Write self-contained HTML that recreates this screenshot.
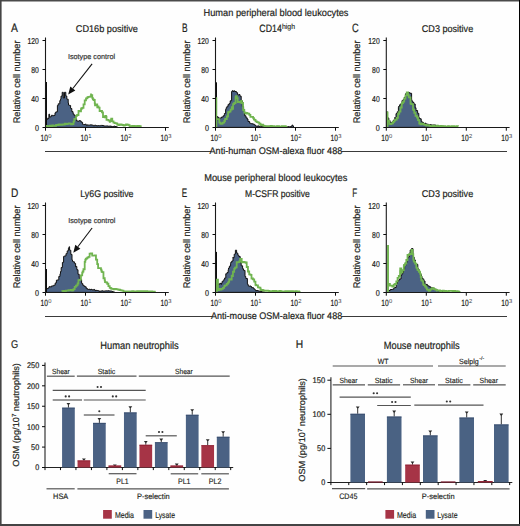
<!DOCTYPE html>
<html><head><meta charset="utf-8"><style>
html,body{margin:0;padding:0;background:#fff;width:520px;height:526px;overflow:hidden}
svg{display:block}
</style></head><body>
<svg width="520" height="526" viewBox="0 0 520 526">
<rect width="520" height="526" fill="#fefefe"/>
<g font-family='"Liberation Sans", sans-serif' fill="#231f20" stroke-width="0" text-rendering="geometricPrecision">
<text x="203.5" y="15.9" font-size="9.9" stroke="#231f20" stroke-width="0.2" textLength="145" lengthAdjust="spacingAndGlyphs" >Human peripheral blood leukocytes</text>
<text x="204.2" y="180.7" font-size="9.9" stroke="#231f20" stroke-width="0.2" textLength="143.1" lengthAdjust="spacingAndGlyphs" >Mouse peripheral blood leukocytes</text>
<polygon points="45.50,127.40 46.60,119.01 46.60,119.01 46.60,119.40 47.80,119.40 47.80,117.96 48.20,117.96 48.20,118.50 48.90,118.50 48.90,114.20 49.60,114.20 49.60,117.20 50.20,117.20 50.20,117.15 50.70,117.15 50.70,116.50 51.40,116.50 51.40,115.28 52.60,115.28 52.60,115.83 53.50,115.83 53.50,115.40 55.00,115.40 55.00,112.82 55.80,112.82 55.80,111.90 57.40,111.90 57.40,105.53 58.20,105.53 58.20,103.80 59.80,103.80 59.80,100.62 60.50,100.62 60.50,99.20 61.00,99.20 61.00,96.15 62.20,96.15 62.20,92.30 63.30,92.30 63.30,98.00 64.50,98.00 64.50,92.30 65.80,92.30 65.80,96.05 66.80,96.05 66.80,99.20 68.20,99.20 68.20,103.03 68.50,103.03 68.50,105.00 69.40,105.00 69.40,105.47 70.60,105.47 70.60,108.03 70.80,108.03 70.80,108.50 71.80,108.50 71.80,111.59 73.00,111.59 73.00,112.90 73.20,112.90 73.20,114.20 74.20,114.20 74.20,115.59 75.40,115.59 75.40,118.88 75.50,118.88 75.50,118.80 76.60,118.80 76.60,120.93 77.80,120.93 77.80,121.20 79.00,121.20 79.00,120.88 79.50,120.88 79.50,120.50 80.20,120.50 80.20,121.02 81.20,121.02 81.20,122.30 82.60,122.30 82.60,124.42 83.50,124.42 83.50,124.60 85.00,124.60 85.00,124.22 86.20,124.22 86.20,125.38 87.40,125.38 87.40,124.85 88.20,124.85 88.20,125.20 89.80,125.20 89.80,124.88 91.00,124.88 91.00,124.92 92.20,124.92 92.20,125.20 93.40,125.20 93.40,125.81 94.60,125.81 94.60,125.19 95.80,125.19 95.80,125.68 97.00,125.68 97.00,125.80 98.20,125.80 98.20,125.59 99.40,125.59 99.40,125.83 99.70,125.83 99.70,125.80 100.60,125.80 100.60,125.40 101.80,125.40 101.80,125.46 103.00,125.46 103.00,125.66 104.20,125.66 104.20,126.17 105.40,126.17 105.40,125.98 106.60,125.98 106.60,125.92 107.80,125.92 107.80,126.23 109.00,126.23 109.00,126.16 110.20,126.16 110.20,126.07 111.40,126.07 111.40,126.56 112.60,126.56 112.60,126.53 113.80,126.53 113.80,126.18 115.00,126.18 115.00,126.52 116.00,126.52 116.00,126.50 116.00,126.50 118.00,127.40" fill="#4b6284" stroke="#111" stroke-width="1.0" stroke-linejoin="miter"/>
<line x1="46.5" y1="82.0" x2="46.5" y2="127.5" stroke="#0d0d0d" stroke-width="1"/>
<polyline points="46.00,125.83 46.00,125.83 46.00,125.80 47.25,125.80 47.25,126.18 48.50,126.18 48.50,126.03 49.75,126.03 49.75,125.59 51.00,125.59 51.00,126.28 52.25,126.28 52.25,125.42 53.50,125.42 53.50,125.72 53.50,125.72 53.50,125.80 54.75,125.80 54.75,125.86 56.00,125.86 56.00,124.98 57.25,124.98 57.25,125.14 58.50,125.14 58.50,124.38 59.75,124.38 59.75,124.94 60.50,124.94 60.50,124.60 61.00,124.60 61.00,124.88 62.25,124.88 62.25,124.46 63.50,124.46 63.50,124.71 64.75,124.71 64.75,123.75 66.00,123.75 66.00,124.13 67.25,124.13 67.25,123.82 68.50,123.82 68.50,123.62 68.50,123.62 68.50,123.50 69.75,123.50 69.75,123.61 71.00,123.61 71.00,124.36 72.00,124.36 72.00,124.00 73.50,124.00 73.50,121.61 74.30,121.61 74.30,118.80 76.00,118.80 76.00,116.20 76.60,116.20 76.60,115.40 77.25,115.40 77.25,115.02 78.50,115.02 78.50,110.97 79.75,110.97 79.75,111.40 81.00,111.40 81.00,109.33 81.20,109.33 81.20,108.50 82.25,108.50 82.25,107.85 83.50,107.85 83.50,104.34 84.70,104.34 84.70,100.40 86.00,100.40 86.00,98.32 87.25,98.32 87.25,97.44 88.20,97.44 88.20,96.90 89.75,96.90 89.75,96.57 91.00,96.57 91.00,93.48 91.00,93.48 91.00,95.20 92.25,95.20 92.25,97.84 92.80,97.84 92.80,99.20 93.50,99.20 93.50,99.98 94.75,99.98 94.75,103.32 95.00,103.32 95.00,105.40 96.00,105.40 96.00,104.29 97.25,104.29 97.25,107.44 97.30,107.44 97.30,106.50 98.50,106.50 98.50,107.62 99.60,107.62 99.60,111.20 101.00,111.20 101.00,110.93 102.00,110.93 102.00,112.30 103.00,112.30 103.00,117.00 103.50,117.00 103.50,116.40 104.75,116.40 104.75,117.36 105.40,117.36 105.40,115.80 106.00,115.80 106.00,116.77 106.50,116.77 106.50,119.80 107.25,119.80 107.25,119.94 108.50,119.94 108.50,120.60 109.75,120.60 109.75,121.75 110.00,121.75 110.00,121.00 111.00,121.00 111.00,119.92 111.20,119.92 111.20,118.70 112.25,118.70 112.25,121.35 113.50,121.35 113.50,122.31 113.50,122.31 113.50,122.70 114.75,122.70 114.75,123.03 116.00,123.03 116.00,123.43 117.25,123.43 117.25,124.66 118.00,124.66 118.00,124.40 118.50,124.40 118.50,125.11 119.75,125.11 119.75,124.32 121.00,124.32 121.00,124.63 122.25,124.63 122.25,124.98 123.50,124.98 123.50,125.25 123.80,125.25 123.80,125.60 124.75,125.60 124.75,125.06 126.00,125.06 126.00,124.52 126.00,124.52 126.00,124.40 127.25,124.40 127.25,124.74 128.50,124.74 128.50,125.13 129.60,125.13 129.60,126.20 131.00,126.20 131.00,126.03 132.25,126.03 132.25,125.89 133.50,125.89 133.50,126.00 134.00,126.00 134.00,125.90 134.75,125.90 134.75,126.35 136.00,126.35 136.00,126.09 137.25,126.09 137.25,125.92 138.50,125.92 138.50,126.02 138.80,126.02 138.80,125.90 139.75,125.90 139.75,126.40 141.00,126.40 141.00,126.70 141.00,126.70" fill="none" stroke="#70b450" stroke-width="1.8" stroke-linejoin="miter"/>
<polygon points="215.80,127.40 217.20,116.02 217.20,116.02 217.20,117.00 218.40,117.00 218.40,118.48 219.20,118.48 219.20,118.00 220.80,118.00 220.80,117.92 221.50,117.92 221.50,117.00 223.20,117.00 223.20,115.77 224.40,115.77 224.40,114.16 224.40,114.16 224.40,113.50 225.60,113.50 225.60,109.40 226.20,109.40 226.20,107.70 226.80,107.70 226.80,106.72 228.00,106.72 228.00,104.56 228.50,104.56 228.50,104.80 229.20,104.80 229.20,103.45 230.20,103.45 230.20,100.80 231.60,100.80 231.60,91.77 231.90,91.77 231.90,91.00 232.80,91.00 232.80,90.46 233.00,90.46 233.00,91.50 234.00,91.50 234.00,90.86 234.80,90.86 234.80,91.50 236.40,91.50 236.40,92.69 237.60,92.69 237.60,94.53 237.70,94.53 237.70,95.00 238.80,95.00 238.80,94.59 240.00,94.59 240.00,95.10 240.00,95.10 240.00,96.20 241.20,96.20 241.20,100.81 242.30,100.81 242.30,106.50 243.60,106.50 243.60,110.88 244.60,110.88 244.60,115.80 246.00,115.80 246.00,117.85 247.20,117.85 247.20,119.11 248.00,119.11 248.00,121.50 249.60,121.50 249.60,123.22 250.80,123.22 250.80,123.52 251.50,123.52 251.50,123.80 253.20,123.80 253.20,124.26 254.40,124.26 254.40,125.07 255.60,125.07 255.60,125.84 256.00,125.84 256.00,126.20 256.80,126.20 256.80,126.11 258.00,126.11 258.00,125.93 259.20,125.93 259.20,126.62 260.40,126.62 260.40,126.79 261.60,126.79 261.60,126.37 262.80,126.37 262.80,126.43 264.00,126.43 264.00,126.14 265.20,126.14 265.20,126.20 266.40,126.20 266.40,126.44 267.60,126.44 267.60,126.42 268.80,126.42 268.80,126.92 270.00,126.92 270.00,126.43 270.00,126.43 270.00,126.70 271.20,126.70 271.20,126.32 272.40,126.32 272.40,127.06 273.60,127.06 273.60,126.72 274.80,126.72 274.80,126.42 276.00,126.42 276.00,126.73 277.20,126.73 277.20,126.33 278.40,126.33 278.40,126.72 279.60,126.72 279.60,127.08 280.80,127.08 280.80,126.99 282.00,126.99 282.00,126.86 283.20,126.86 283.20,126.51 284.40,126.51 284.40,126.59 285.60,126.59 285.60,126.44 286.80,126.44 286.80,126.92 288.00,126.92 288.00,126.73 289.20,126.73 289.20,126.92 290.40,126.92 290.40,126.57 291.00,126.57 291.00,126.70 291.60,126.70 291.60,125.67 292.50,125.67 292.50,124.80 292.50,124.80 294.00,127.30" fill="#4b6284" stroke="#111" stroke-width="1.0" stroke-linejoin="miter"/>
<line x1="216.5" y1="82.3" x2="216.5" y2="127.5" stroke="#0d0d0d" stroke-width="1"/>
<polyline points="216.80,120.01 216.80,120.01 216.80,119.20 218.00,119.20 218.00,119.20 219.30,119.20 219.30,122.66 220.40,122.66 220.40,123.80 221.80,123.80 221.80,123.71 222.70,123.71 222.70,122.70 224.30,122.70 224.30,120.98 225.00,120.98 225.00,119.20 225.55,119.20 225.55,119.02 226.80,119.02 226.80,116.48 228.05,116.48 228.05,112.20 228.50,112.20 228.50,112.30 229.30,112.30 229.30,111.54 230.55,111.54 230.55,109.67 231.80,109.67 231.80,107.21 231.90,107.21 231.90,108.80 233.05,108.80 233.05,104.20 234.20,104.20 234.20,103.00 235.55,103.00 235.55,97.11 236.00,97.11 236.00,96.20 236.80,96.20 236.80,98.06 237.70,98.06 237.70,102.00 239.30,102.00 239.30,102.14 240.55,102.14 240.55,102.67 241.20,102.67 241.20,100.80 241.80,100.80 241.80,103.01 243.05,103.01 243.05,109.77 243.50,109.77 243.50,110.00 244.30,110.00 244.30,112.56 245.55,112.56 245.55,113.69 246.80,113.69 246.80,112.81 247.00,112.81 247.00,113.50 248.05,113.50 248.05,113.54 249.30,113.54 249.30,114.87 250.40,114.87 250.40,116.90 251.80,116.90 251.80,116.96 253.05,116.96 253.05,117.89 253.80,117.89 253.80,119.20 254.30,119.20 254.30,119.88 255.55,119.88 255.55,121.42 256.80,121.42 256.80,122.13 258.05,122.13 258.05,122.33 258.50,122.33 258.50,122.70 259.30,122.70 259.30,123.74 260.55,123.74 260.55,125.13 260.80,125.13 260.80,125.00 261.80,125.00 261.80,124.69 263.05,124.69 263.05,125.57 264.30,125.57 264.30,126.04 265.55,126.04 265.55,126.11 266.80,126.11 266.80,126.28 267.70,126.28 267.70,126.20 269.30,126.20 269.30,126.20 270.55,126.20 270.55,125.95 271.80,125.95 271.80,126.52 273.05,126.52 273.05,126.13 274.30,126.13 274.30,126.57 275.55,126.57 275.55,126.74 276.80,126.74 276.80,126.25 278.05,126.25 278.05,126.27 279.30,126.27 279.30,126.77 280.55,126.77 280.55,126.59 281.80,126.59 281.80,126.14 283.05,126.14 283.05,126.12 284.30,126.12 284.30,126.16 285.55,126.16 285.55,126.82 286.80,126.82 286.80,126.75 287.00,126.75 287.00,126.50 287.00,126.50" fill="none" stroke="#70b450" stroke-width="1.8" stroke-linejoin="miter"/>
<line x1="216.3" y1="97.3" x2="216.3" y2="127.5" stroke="#70b450" stroke-width="1.9"/>
<polygon points="386.80,127.40 387.60,117.22 387.60,117.22 387.60,118.00 388.80,118.00 388.80,120.52 389.20,120.52 389.20,120.40 390.00,120.40 390.00,122.21 391.20,122.21 391.20,122.69 391.50,122.69 391.50,122.70 392.40,122.70 392.40,121.19 393.60,121.19 393.60,119.99 394.80,119.99 394.80,117.46 395.00,117.46 395.00,118.00 396.00,118.00 396.00,113.65 397.20,113.65 397.20,111.81 398.40,111.81 398.40,107.16 398.50,107.16 398.50,106.50 399.60,106.50 399.60,104.77 400.80,104.77 400.80,103.71 402.00,103.71 402.00,100.65 402.00,100.65 402.00,100.80 403.20,100.80 403.20,99.46 404.40,99.46 404.40,97.20 405.60,97.20 405.60,93.68 406.50,93.68 406.50,92.70 408.00,92.70 408.00,92.41 409.20,92.41 409.20,92.71 410.00,92.71 410.00,93.30 411.60,93.30 411.60,99.57 411.80,99.57 411.80,101.00 412.80,101.00 412.80,102.55 414.00,102.55 414.00,103.47 414.00,103.47 414.00,104.00 415.20,104.00 415.20,107.72 416.00,107.72 416.00,110.50 417.60,110.50 417.60,113.32 418.80,113.32 418.80,117.77 419.30,117.77 419.30,118.00 420.00,118.00 420.00,118.80 421.20,118.80 421.20,120.95 421.80,120.95 421.80,122.00 422.40,122.00 422.40,122.43 423.60,122.43 423.60,123.52 424.80,123.52 424.80,123.24 426.00,123.24 426.00,124.52 426.20,124.52 426.20,124.00 427.20,124.00 427.20,124.22 428.40,124.22 428.40,124.52 429.60,124.52 429.60,124.77 430.80,124.77 430.80,124.42 430.80,124.42 430.80,125.00 432.00,125.00 432.00,125.09 433.20,125.09 433.20,124.96 434.40,124.96 434.40,124.93 435.60,124.93 435.60,125.94 436.80,125.94 436.80,125.45 438.00,125.45 438.00,125.91 439.20,125.91 439.20,126.31 440.00,126.31 440.00,126.20 441.60,126.20 441.60,126.35 442.80,126.35 442.80,126.22 444.00,126.22 444.00,126.46 445.20,126.46 445.20,126.56 446.40,126.56 446.40,126.82 447.60,126.82 447.60,126.34 448.80,126.34 448.80,126.78 450.00,126.78 450.00,126.61 450.00,126.61 450.00,126.80 450.00,126.80 455.00,127.30" fill="#4b6284" stroke="#111" stroke-width="1.0" stroke-linejoin="miter"/>
<line x1="387.0" y1="111.2" x2="387.0" y2="127.5" stroke="#0d0d0d" stroke-width="1"/>
<polyline points="388.00,120.52 388.00,120.52 388.00,121.00 389.20,121.00 389.20,123.80 390.50,123.80 390.50,123.99 391.50,123.99 391.50,123.40 393.00,123.40 393.00,121.87 394.25,121.87 394.25,120.71 395.00,120.71 395.00,119.80 395.50,119.80 395.50,119.59 396.75,119.59 396.75,117.97 398.00,117.97 398.00,114.20 398.50,114.20 398.50,113.50 399.25,113.50 399.25,111.66 400.50,111.66 400.50,107.52 401.75,107.52 401.75,103.79 402.00,103.79 402.00,103.00 403.00,103.00 403.00,101.65 404.20,101.65 404.20,98.50 405.50,98.50 405.50,95.33 406.75,95.33 406.75,92.74 406.80,92.74 406.80,92.50 408.00,92.50 408.00,95.30 408.80,95.30 408.80,97.30 410.50,97.30 410.50,103.58 411.30,103.58 411.30,104.20 413.00,104.20 413.00,109.40 413.50,109.40 413.50,110.00 414.25,110.00 414.25,112.96 415.50,112.96 415.50,115.88 416.75,115.88 416.75,116.21 417.00,116.21 417.00,117.50 418.00,117.50 418.00,120.04 419.25,120.04 419.25,123.66 419.50,123.66 419.50,123.50 420.50,123.50 420.50,124.32 421.75,124.32 421.75,123.70 423.00,123.70 423.00,124.11 424.25,124.11 424.25,124.92 425.50,124.92 425.50,124.91 426.20,124.91 426.20,125.60 426.75,125.60 426.75,125.35 428.00,125.35 428.00,125.24 429.25,125.24 429.25,125.91 430.50,125.91 430.50,126.07 431.75,126.07 431.75,126.24 433.00,126.24 433.00,125.56 434.25,125.56 434.25,126.16 435.50,126.16 435.50,126.16 436.75,126.16 436.75,125.72 438.00,125.72 438.00,126.47 439.25,126.47 439.25,126.60 440.00,126.60 440.00,126.20 440.50,126.20 440.50,125.95 441.75,125.95 441.75,126.64 443.00,126.64 443.00,126.16 444.25,126.16 444.25,126.26 445.50,126.26 445.50,126.73 446.75,126.73 446.75,126.61 448.00,126.61 448.00,126.04 449.25,126.04 449.25,126.29 450.50,126.29 450.50,126.39 451.75,126.39 451.75,126.26 453.00,126.26 453.00,126.16 454.25,126.16 454.25,126.28 455.50,126.28 455.50,126.65 456.75,126.65 456.75,126.07 458.00,126.07 458.00,126.50 458.00,126.50" fill="none" stroke="#70b450" stroke-width="1.8" stroke-linejoin="miter"/>
<line x1="387.5" y1="111.5" x2="387.5" y2="127.5" stroke="#70b450" stroke-width="1.9"/>
<polygon points="45.50,292.40 46.80,288.68 46.80,288.68 46.80,288.60 48.00,288.60 48.00,287.92 49.20,287.92 49.20,286.56 50.30,286.56 50.30,286.90 51.60,286.90 51.60,285.90 52.80,285.90 52.80,285.92 53.70,285.92 53.70,285.20 55.20,285.20 55.20,282.98 56.40,282.98 56.40,280.19 57.10,280.19 57.10,280.10 57.60,280.10 57.60,279.90 58.80,279.90 58.80,276.43 60.00,276.43 60.00,273.80 60.50,273.80 60.50,271.50 61.20,271.50 61.20,267.48 62.40,267.48 62.40,262.43 63.60,262.43 63.60,256.54 63.90,256.54 63.90,256.20 64.80,256.20 64.80,255.91 66.00,255.91 66.00,253.59 66.50,253.59 66.50,253.60 67.20,253.60 67.20,250.88 68.40,250.88 68.40,248.26 69.00,248.26 69.00,246.80 69.60,246.80 69.60,250.24 70.80,250.24 70.80,254.40 72.00,254.40 72.00,259.97 72.50,259.97 72.50,261.30 73.20,261.30 73.20,261.82 74.40,261.82 74.40,263.38 75.60,263.38 75.60,266.87 75.90,266.87 75.90,266.40 76.80,266.40 76.80,269.73 78.00,269.73 78.00,274.25 79.20,274.25 79.20,277.14 79.30,277.14 79.30,278.40 80.40,278.40 80.40,279.63 81.60,279.63 81.60,283.41 82.70,283.41 82.70,285.20 84.00,285.20 84.00,286.31 85.20,286.31 85.20,286.87 86.20,286.87 86.20,288.60 87.60,288.60 87.60,289.49 88.80,289.49 88.80,289.25 90.00,289.25 90.00,289.69 91.20,289.69 91.20,288.93 91.30,288.93 91.30,289.50 92.40,289.50 92.40,290.17 93.60,290.17 93.60,289.44 94.80,289.44 94.80,290.62 96.00,290.62 96.00,290.39 97.20,290.39 97.20,290.51 98.40,290.51 98.40,290.97 99.60,290.97 99.60,291.55 99.80,291.55 99.80,291.20 100.80,291.20 100.80,290.99 102.00,290.99 102.00,290.86 103.20,290.86 103.20,291.22 104.40,291.22 104.40,290.96 105.60,290.96 105.60,290.84 106.80,290.84 106.80,290.89 108.00,290.89 108.00,290.79 109.20,290.79 109.20,290.93 110.40,290.93 110.40,291.03 111.60,291.03 111.60,291.02 111.80,291.02 111.80,291.20 111.80,291.20 115.00,292.40" fill="#4b6284" stroke="#111" stroke-width="1.0" stroke-linejoin="miter"/>
<line x1="46.5" y1="269.0" x2="46.5" y2="292.5" stroke="#0d0d0d" stroke-width="1"/>
<polyline points="62.20,291.44 62.20,291.44 62.20,291.20 63.45,291.20 63.45,290.89 64.70,290.89 64.70,290.98 65.95,290.98 65.95,290.55 67.20,290.55 67.20,290.61 68.45,290.61 68.45,290.15 69.70,290.15 69.70,290.28 70.95,290.28 70.95,289.90 72.20,289.90 72.20,290.59 72.50,290.59 72.50,290.30 73.45,290.30 73.45,289.11 74.70,289.11 74.70,286.80 75.95,286.80 75.95,285.64 77.20,285.64 77.20,285.18 77.60,285.18 77.60,283.50 78.45,283.50 78.45,280.22 79.70,280.22 79.70,279.71 80.95,279.71 80.95,275.37 82.20,275.37 82.20,272.66 82.70,272.66 82.70,271.50 83.45,271.50 83.45,269.27 84.70,269.27 84.70,261.96 85.30,261.96 85.30,259.60 85.95,259.60 85.95,258.72 87.20,258.72 87.20,257.62 88.45,257.62 88.45,256.94 89.60,256.94 89.60,253.60 90.95,253.60 90.95,253.48 92.20,253.48 92.20,255.66 93.45,255.66 93.45,255.63 94.70,255.63 94.70,255.79 94.70,255.79 94.70,255.30 95.95,255.30 95.95,259.66 97.20,259.66 97.20,264.16 98.10,264.16 98.10,268.10 99.70,268.10 99.70,268.10 100.95,268.10 100.95,269.62 101.50,269.62 101.50,271.50 102.20,271.50 102.20,272.07 103.45,272.07 103.45,278.27 104.70,278.27 104.70,280.38 105.00,280.38 105.00,282.10 105.95,282.10 105.95,282.30 107.20,282.30 107.20,283.73 108.40,283.73 108.40,286.20 109.70,286.20 109.70,287.78 110.95,287.78 110.95,288.66 112.00,288.66 112.00,288.80 113.45,288.80 113.45,289.30 114.70,289.30 114.70,288.97 115.95,288.97 115.95,289.15 117.20,289.15 117.20,289.45 118.45,289.45 118.45,289.88 119.70,289.88 119.70,289.75 120.00,289.75 120.00,290.20 120.95,290.20 120.95,290.39 122.20,290.39 122.20,290.53 123.45,290.53 123.45,291.53 124.70,291.53 124.70,291.83 125.00,291.83 125.00,291.50 125.95,291.50 125.95,291.54 127.20,291.54 127.20,291.29 128.45,291.29 128.45,291.89 129.70,291.89 129.70,291.34 130.95,291.34 130.95,291.38 132.20,291.38 132.20,291.08 133.45,291.08 133.45,291.40 134.70,291.40 134.70,291.48 135.95,291.48 135.95,291.50 137.20,291.50 137.20,291.25 138.45,291.25 138.45,291.50 139.70,291.50 139.70,291.08 140.95,291.08 140.95,291.30 142.20,291.30 142.20,291.16 143.45,291.16 143.45,291.42 144.70,291.42 144.70,291.12 145.95,291.12 145.95,291.10 147.20,291.10 147.20,291.34 148.45,291.34 148.45,291.28 149.70,291.28 149.70,291.57 150.95,291.57 150.95,291.52 152.20,291.52 152.20,291.71 153.45,291.71 153.45,291.63 154.70,291.63 154.70,291.68 155.00,291.68 155.00,291.50 155.00,291.50" fill="none" stroke="#70b450" stroke-width="1.8" stroke-linejoin="miter"/>
<polygon points="216.00,292.40 217.40,285.03 217.40,285.03 217.40,284.20 218.60,284.20 218.60,283.96 218.70,283.96 218.70,284.20 219.80,284.20 219.80,283.39 221.00,283.39 221.00,284.36 221.50,284.36 221.50,283.10 222.20,283.10 222.20,281.26 223.40,281.26 223.40,280.70 223.80,280.70 223.80,279.60 224.60,279.60 224.60,277.98 225.80,277.98 225.80,273.76 226.20,273.76 226.20,273.80 227.00,273.80 227.00,272.56 228.20,272.56 228.20,269.71 228.50,269.71 228.50,268.10 229.40,268.10 229.40,266.11 230.60,266.11 230.60,263.32 230.80,263.32 230.80,262.30 231.80,262.30 231.80,260.99 233.00,260.99 233.00,257.11 233.10,257.11 233.10,257.70 234.20,257.70 234.20,254.17 235.40,254.17 235.40,250.21 235.40,250.21 235.40,250.20 236.60,250.20 236.60,252.98 237.10,252.98 237.10,253.10 237.80,253.10 237.80,255.17 238.80,255.17 238.80,256.50 240.20,256.50 240.20,262.64 241.20,262.64 241.20,265.80 242.60,265.80 242.60,268.78 243.50,268.78 243.50,270.40 245.00,270.40 245.00,276.55 245.80,276.55 245.80,278.50 247.40,278.50 247.40,283.92 248.00,283.92 248.00,285.40 248.60,285.40 248.60,286.22 249.80,286.22 249.80,286.04 251.00,286.04 251.00,286.51 251.50,286.51 251.50,287.70 252.20,287.70 252.20,287.56 253.40,287.56 253.40,288.75 254.60,288.75 254.60,289.24 255.00,289.24 255.00,290.00 255.80,290.00 255.80,290.59 257.00,290.59 257.00,290.58 258.20,290.58 258.20,290.96 259.40,290.96 259.40,291.26 259.60,291.26 259.60,291.20 259.60,291.20 265.00,292.30" fill="#4b6284" stroke="#111" stroke-width="1.0" stroke-linejoin="miter"/>
<line x1="216.5" y1="251.9" x2="216.5" y2="292.5" stroke="#0d0d0d" stroke-width="1"/>
<polyline points="216.70,280.25 216.70,280.25 216.70,279.60 217.95,279.60 217.95,289.59 218.00,289.59 218.00,290.00 219.20,290.00 219.20,288.94 220.45,288.94 220.45,289.58 221.50,289.58 221.50,288.80 222.95,288.80 222.95,287.84 224.20,287.84 224.20,286.18 225.00,286.18 225.00,285.40 226.70,285.40 226.70,283.80 227.95,283.80 227.95,282.93 228.50,282.93 228.50,281.90 229.20,281.90 229.20,279.24 230.45,279.24 230.45,279.48 231.70,279.48 231.70,275.64 231.90,275.64 231.90,276.20 232.95,276.20 232.95,271.74 234.20,271.74 234.20,268.93 234.80,268.93 234.80,268.10 235.45,268.10 235.45,267.29 236.70,267.29 236.70,262.25 237.10,262.25 237.10,262.30 237.95,262.30 237.95,262.14 239.20,262.14 239.20,261.48 240.00,261.48 240.00,258.80 241.70,258.80 241.70,262.28 241.70,262.28 241.70,262.30 242.95,262.30 242.95,261.88 244.20,261.88 244.20,262.22 245.45,262.22 245.45,262.96 245.80,262.96 245.80,262.30 246.70,262.30 246.70,267.02 247.95,267.02 247.95,271.71 248.00,271.71 248.00,271.50 249.20,271.50 249.20,274.41 250.45,274.41 250.45,274.88 251.50,274.88 251.50,278.50 252.95,278.50 252.95,279.41 254.20,279.41 254.20,281.72 255.45,281.72 255.45,284.92 256.20,284.92 256.20,285.40 256.70,285.40 256.70,285.47 257.95,285.47 257.95,287.28 259.20,287.28 259.20,287.63 260.45,287.63 260.45,289.09 260.80,289.09 260.80,290.00 261.70,290.00 261.70,289.85 262.95,289.85 262.95,290.48 264.20,290.48 264.20,290.65 265.45,290.65 265.45,290.79 266.70,290.79 266.70,290.56 267.95,290.56 267.95,290.95 269.20,290.95 269.20,291.06 270.00,291.06 270.00,291.20 271.70,291.20 271.70,291.19 272.95,291.19 272.95,290.88 274.20,290.88 274.20,291.60 275.45,291.60 275.45,290.98 276.70,290.98 276.70,291.70 277.95,291.70 277.95,291.67 279.20,291.67 279.20,290.86 280.45,290.86 280.45,291.27 281.70,291.27 281.70,291.60 282.95,291.60 282.95,291.74 284.20,291.74 284.20,291.30 285.45,291.30 285.45,291.15 286.70,291.15 286.70,291.11 287.95,291.11 287.95,291.77 289.20,291.77 289.20,291.14 290.45,291.14 290.45,291.47 291.70,291.47 291.70,291.11 292.95,291.11 292.95,291.45 294.20,291.45 294.20,291.83 295.45,291.83 295.45,291.14 296.70,291.14 296.70,291.74 297.95,291.74 297.95,291.49 299.20,291.49 299.20,291.82 300.00,291.82 300.00,291.50 300.00,291.50" fill="none" stroke="#70b450" stroke-width="1.8" stroke-linejoin="miter"/>
<line x1="216.8" y1="279.6" x2="216.8" y2="292.5" stroke="#70b450" stroke-width="1.9"/>
<polygon points="387.00,292.50 389.00,290.72 389.00,290.72 389.00,290.50 390.20,290.50 390.20,289.57 391.00,289.57 391.00,289.50 392.60,289.50 392.60,289.20 393.80,289.20 393.80,287.88 394.50,287.88 394.50,287.50 396.20,287.50 396.20,283.44 397.40,283.44 397.40,281.27 398.60,281.27 398.60,280.22 399.30,280.22 399.30,279.00 401.00,279.00 401.00,275.11 402.00,275.11 402.00,273.00 403.40,273.00 403.40,269.06 404.60,269.06 404.60,265.71 405.00,265.71 405.00,265.50 405.80,265.50 405.80,262.73 407.00,262.73 407.00,259.02 407.80,259.02 407.80,257.00 409.40,257.00 409.40,253.08 410.20,253.08 410.20,250.00 411.50,250.00 411.50,248.60 413.00,248.60 413.00,254.67 413.30,254.67 413.30,257.20 414.20,257.20 414.20,259.98 415.40,259.98 415.40,263.15 415.80,263.15 415.80,263.40 416.60,263.40 416.60,264.42 417.80,264.42 417.80,268.99 419.00,268.99 419.00,271.31 419.50,271.31 419.50,272.00 420.20,272.00 420.20,274.62 421.40,274.62 421.40,276.25 422.00,276.25 422.00,278.20 422.60,278.20 422.60,278.92 423.80,278.92 423.80,280.98 425.00,280.98 425.00,284.32 425.70,284.32 425.70,284.40 427.40,284.40 427.40,285.74 428.60,285.74 428.60,286.07 429.40,286.07 429.40,286.90 431.00,286.90 431.00,287.56 432.20,287.56 432.20,287.91 433.40,287.91 433.40,288.19 434.30,288.19 434.30,289.30 435.80,289.30 435.80,289.38 437.00,289.38 437.00,290.70 438.20,290.70 438.20,290.56 439.30,290.56 439.30,291.20 439.30,291.20 450.00,292.50" fill="#4b6284" stroke="#111" stroke-width="1.0" stroke-linejoin="miter"/>
<polyline points="388.80,285.15 388.80,285.15 388.80,284.00 389.90,284.00 389.90,285.60 391.30,285.60 391.30,285.59 392.30,285.59 392.30,286.50 393.80,286.50 393.80,284.56 395.00,284.56 395.00,284.00 396.30,284.00 396.30,281.44 397.55,281.44 397.55,277.78 398.80,277.78 398.80,275.94 399.00,275.94 399.00,276.00 400.05,276.00 400.05,271.08 400.20,271.08 400.20,268.50 401.30,268.50 401.30,272.84 401.50,272.84 401.50,272.00 402.55,272.00 402.55,270.18 403.80,270.18 403.80,266.03 404.00,266.03 404.00,265.00 405.05,265.00 405.05,263.49 406.30,263.49 406.30,260.02 407.50,260.02 407.50,255.00 408.80,255.00 408.80,254.56 409.60,254.56 409.60,254.00 411.30,254.00 411.30,251.21 411.50,251.21 411.50,250.00 412.55,250.00 412.55,254.04 413.30,254.04 413.30,259.70 413.80,259.70 413.80,261.70 415.05,261.70 415.05,263.59 416.30,263.59 416.30,267.58 417.00,267.58 417.00,268.30 417.55,268.30 417.55,270.11 418.80,270.11 418.80,271.76 420.05,271.76 420.05,273.85 420.70,273.85 420.70,277.00 421.30,277.00 421.30,280.31 422.55,280.31 422.55,281.36 423.20,281.36 423.20,284.40 423.80,284.40 423.80,285.13 425.05,285.13 425.05,286.54 426.30,286.54 426.30,288.19 426.90,288.19 426.90,289.30 427.55,289.30 427.55,289.95 428.80,289.95 428.80,290.83 429.40,290.83 429.40,290.60 430.05,290.60 430.05,289.66 431.30,289.66 431.30,288.94 431.90,288.94 431.90,288.10 432.55,288.10 432.55,288.12 433.80,288.12 433.80,289.15 435.05,289.15 435.05,289.57 436.30,289.57 436.30,289.97 436.80,289.97 436.80,290.60 437.55,290.60 437.55,290.28 438.80,290.28 438.80,290.40 440.05,290.40 440.05,291.17 441.30,291.17 441.30,290.82 442.55,290.82 442.55,290.60 443.80,290.60 443.80,291.34 445.00,291.34 445.00,291.00 446.30,291.00 446.30,291.51 447.55,291.51 447.55,291.04 448.80,291.04 448.80,290.79 450.05,290.79 450.05,290.89 451.30,290.89 451.30,290.84 452.55,290.84 452.55,291.11 453.80,291.11 453.80,290.93 455.05,290.93 455.05,291.11 456.30,291.11 456.30,291.17 457.55,291.17 457.55,291.48 458.80,291.48 458.80,291.79 460.00,291.79 460.00,291.50 460.00,291.50" fill="none" stroke="#70b450" stroke-width="1.8" stroke-linejoin="miter"/>
<line x1="388.0" y1="244.9" x2="388.0" y2="292.5" stroke="#70b450" stroke-width="1.9"/>
<text x="11.0" y="31.700000000000003" font-size="12.2" stroke="#231f20" stroke-width="0.2" textLength="6.9" lengthAdjust="spacingAndGlyphs" >A</text>
<text x="75.8" y="32.2" font-size="9.8" stroke="#231f20" stroke-width="0.2" textLength="62.1" lengthAdjust="spacingAndGlyphs" >CD16b positive</text>
<line x1="45.5" y1="37.5" x2="45.5" y2="128.1" stroke="#1a1a1a" stroke-width="1.1"/>
<line x1="42.5" y1="127.5" x2="45.5" y2="127.5" stroke="#0a0a0a" stroke-width="1"/>
<text x="38.9" y="130.5" font-size="8.6" stroke="#231f20" stroke-width="0.2" text-anchor="end" textLength="4" lengthAdjust="spacingAndGlyphs" >0</text>
<line x1="42.5" y1="98.5" x2="45.5" y2="98.5" stroke="#0a0a0a" stroke-width="1"/>
<text x="38.9" y="101.5" font-size="8.6" stroke="#231f20" stroke-width="0.2" text-anchor="end" textLength="7.6" lengthAdjust="spacingAndGlyphs" >40</text>
<line x1="42.5" y1="69.5" x2="45.5" y2="69.5" stroke="#0a0a0a" stroke-width="1"/>
<text x="38.9" y="72.5" font-size="8.6" stroke="#231f20" stroke-width="0.2" text-anchor="end" textLength="7.6" lengthAdjust="spacingAndGlyphs" >80</text>
<line x1="42.5" y1="40.5" x2="45.5" y2="40.5" stroke="#0a0a0a" stroke-width="1"/>
<text x="38.9" y="43.5" font-size="8.6" stroke="#231f20" stroke-width="0.2" text-anchor="end" textLength="11.4" lengthAdjust="spacingAndGlyphs" >120</text>
<line x1="45.0" y1="127.5" x2="168.8" y2="127.5" stroke="#1a1a1a" stroke-width="1.1"/>
<line x1="45.5" y1="127.5" x2="45.5" y2="130.7" stroke="#0a0a0a" stroke-width="1"/>
<text x="40.5" y="140.9" font-size="9.0" stroke="#231f20" stroke-width="0.2" textLength="7.4" lengthAdjust="spacingAndGlyphs" >10</text>
<text transform="translate(48.3,137.7) scale(0.29)" font-size="20" fill="#444" text-rendering="geometricPrecision">0</text>
<line x1="85.5" y1="127.5" x2="85.5" y2="130.7" stroke="#0a0a0a" stroke-width="1"/>
<text x="80.5" y="140.9" font-size="9.0" stroke="#231f20" stroke-width="0.2" textLength="7.4" lengthAdjust="spacingAndGlyphs" >10</text>
<text transform="translate(88.3,137.7) scale(0.29)" font-size="20" fill="#444" text-rendering="geometricPrecision">1</text>
<line x1="125.5" y1="127.5" x2="125.5" y2="130.7" stroke="#0a0a0a" stroke-width="1"/>
<text x="120.5" y="140.9" font-size="9.0" stroke="#231f20" stroke-width="0.2" textLength="7.4" lengthAdjust="spacingAndGlyphs" >10</text>
<text transform="translate(128.3,137.7) scale(0.29)" font-size="20" fill="#444" text-rendering="geometricPrecision">2</text>
<line x1="165.5" y1="127.5" x2="165.5" y2="130.7" stroke="#0a0a0a" stroke-width="1"/>
<text x="160.5" y="140.9" font-size="9.0" stroke="#231f20" stroke-width="0.2" textLength="7.4" lengthAdjust="spacingAndGlyphs" >10</text>
<text transform="translate(168.3,137.7) scale(0.29)" font-size="20" fill="#444" text-rendering="geometricPrecision">3</text>
<text transform="translate(19.5,81.9) rotate(-90)" x="0" y="0" font-size="9.6" text-anchor="middle" stroke="#231f20" stroke-width="0.2" textLength="82.7" lengthAdjust="spacingAndGlyphs">Relative cell number</text>
<text x="182.0" y="31.700000000000003" font-size="12.2" stroke="#231f20" stroke-width="0.2" textLength="5.6" lengthAdjust="spacingAndGlyphs" >B</text>
<text x="259.3" y="31.599999999999994" font-size="10.6" stroke="#231f20" stroke-width="0.2" textLength="22.5" lengthAdjust="spacingAndGlyphs" >CD14</text>
<line x1="215.5" y1="37.5" x2="215.5" y2="128.1" stroke="#1a1a1a" stroke-width="1.1"/>
<line x1="212.5" y1="127.5" x2="215.5" y2="127.5" stroke="#0a0a0a" stroke-width="1"/>
<text x="208.9" y="130.5" font-size="8.6" stroke="#231f20" stroke-width="0.2" text-anchor="end" textLength="4" lengthAdjust="spacingAndGlyphs" >0</text>
<line x1="212.5" y1="98.5" x2="215.5" y2="98.5" stroke="#0a0a0a" stroke-width="1"/>
<text x="208.9" y="101.5" font-size="8.6" stroke="#231f20" stroke-width="0.2" text-anchor="end" textLength="7.6" lengthAdjust="spacingAndGlyphs" >40</text>
<line x1="212.5" y1="69.5" x2="215.5" y2="69.5" stroke="#0a0a0a" stroke-width="1"/>
<text x="208.9" y="72.5" font-size="8.6" stroke="#231f20" stroke-width="0.2" text-anchor="end" textLength="7.6" lengthAdjust="spacingAndGlyphs" >80</text>
<line x1="212.5" y1="40.5" x2="215.5" y2="40.5" stroke="#0a0a0a" stroke-width="1"/>
<text x="208.9" y="43.5" font-size="8.6" stroke="#231f20" stroke-width="0.2" text-anchor="end" textLength="11.4" lengthAdjust="spacingAndGlyphs" >120</text>
<line x1="215.0" y1="127.5" x2="338.8" y2="127.5" stroke="#1a1a1a" stroke-width="1.1"/>
<line x1="215.5" y1="127.5" x2="215.5" y2="130.7" stroke="#0a0a0a" stroke-width="1"/>
<text x="210.5" y="140.9" font-size="9.0" stroke="#231f20" stroke-width="0.2" textLength="7.4" lengthAdjust="spacingAndGlyphs" >10</text>
<text transform="translate(218.3,137.7) scale(0.29)" font-size="20" fill="#444" text-rendering="geometricPrecision">0</text>
<line x1="255.5" y1="127.5" x2="255.5" y2="130.7" stroke="#0a0a0a" stroke-width="1"/>
<text x="250.5" y="140.9" font-size="9.0" stroke="#231f20" stroke-width="0.2" textLength="7.4" lengthAdjust="spacingAndGlyphs" >10</text>
<text transform="translate(258.3,137.7) scale(0.29)" font-size="20" fill="#444" text-rendering="geometricPrecision">1</text>
<line x1="295.5" y1="127.5" x2="295.5" y2="130.7" stroke="#0a0a0a" stroke-width="1"/>
<text x="290.5" y="140.9" font-size="9.0" stroke="#231f20" stroke-width="0.2" textLength="7.4" lengthAdjust="spacingAndGlyphs" >10</text>
<text transform="translate(298.3,137.7) scale(0.29)" font-size="20" fill="#444" text-rendering="geometricPrecision">2</text>
<line x1="335.5" y1="127.5" x2="335.5" y2="130.7" stroke="#0a0a0a" stroke-width="1"/>
<text x="330.5" y="140.9" font-size="9.0" stroke="#231f20" stroke-width="0.2" textLength="7.4" lengthAdjust="spacingAndGlyphs" >10</text>
<text transform="translate(338.3,137.7) scale(0.29)" font-size="20" fill="#444" text-rendering="geometricPrecision">3</text>
<text transform="translate(189.5,81.9) rotate(-90)" x="0" y="0" font-size="9.6" text-anchor="middle" stroke="#231f20" stroke-width="0.2" textLength="82.7" lengthAdjust="spacingAndGlyphs">Relative cell number</text>
<text x="282" y="28.8" font-size="7.4" stroke="#231f20" stroke-width="0.15" textLength="13" lengthAdjust="spacingAndGlyphs" >high</text>
<text x="352.0" y="31.700000000000003" font-size="12.2" stroke="#231f20" stroke-width="0.2" textLength="6.7" lengthAdjust="spacingAndGlyphs" >C</text>
<text x="421.8" y="32.2" font-size="9.8" stroke="#231f20" stroke-width="0.2" textLength="51.4" lengthAdjust="spacingAndGlyphs" >CD3 positive</text>
<line x1="386.3" y1="37.5" x2="386.3" y2="128.1" stroke="#1a1a1a" stroke-width="1.1"/>
<line x1="383.3" y1="127.5" x2="386.3" y2="127.5" stroke="#0a0a0a" stroke-width="1"/>
<text x="379.7" y="130.5" font-size="8.6" stroke="#231f20" stroke-width="0.2" text-anchor="end" textLength="4" lengthAdjust="spacingAndGlyphs" >0</text>
<line x1="383.3" y1="98.5" x2="386.3" y2="98.5" stroke="#0a0a0a" stroke-width="1"/>
<text x="379.7" y="101.5" font-size="8.6" stroke="#231f20" stroke-width="0.2" text-anchor="end" textLength="7.6" lengthAdjust="spacingAndGlyphs" >40</text>
<line x1="383.3" y1="69.5" x2="386.3" y2="69.5" stroke="#0a0a0a" stroke-width="1"/>
<text x="379.7" y="72.5" font-size="8.6" stroke="#231f20" stroke-width="0.2" text-anchor="end" textLength="7.6" lengthAdjust="spacingAndGlyphs" >80</text>
<line x1="383.3" y1="40.5" x2="386.3" y2="40.5" stroke="#0a0a0a" stroke-width="1"/>
<text x="379.7" y="43.5" font-size="8.6" stroke="#231f20" stroke-width="0.2" text-anchor="end" textLength="11.4" lengthAdjust="spacingAndGlyphs" >120</text>
<line x1="385.8" y1="127.5" x2="509.6" y2="127.5" stroke="#1a1a1a" stroke-width="1.1"/>
<line x1="386.3" y1="127.5" x2="386.3" y2="130.7" stroke="#0a0a0a" stroke-width="1"/>
<text x="381.3" y="140.9" font-size="9.0" stroke="#231f20" stroke-width="0.2" textLength="7.4" lengthAdjust="spacingAndGlyphs" >10</text>
<text transform="translate(389.1,137.7) scale(0.29)" font-size="20" fill="#444" text-rendering="geometricPrecision">0</text>
<line x1="426.3" y1="127.5" x2="426.3" y2="130.7" stroke="#0a0a0a" stroke-width="1"/>
<text x="421.3" y="140.9" font-size="9.0" stroke="#231f20" stroke-width="0.2" textLength="7.4" lengthAdjust="spacingAndGlyphs" >10</text>
<text transform="translate(429.1,137.7) scale(0.29)" font-size="20" fill="#444" text-rendering="geometricPrecision">1</text>
<line x1="466.3" y1="127.5" x2="466.3" y2="130.7" stroke="#0a0a0a" stroke-width="1"/>
<text x="461.3" y="140.9" font-size="9.0" stroke="#231f20" stroke-width="0.2" textLength="7.4" lengthAdjust="spacingAndGlyphs" >10</text>
<text transform="translate(469.1,137.7) scale(0.29)" font-size="20" fill="#444" text-rendering="geometricPrecision">2</text>
<line x1="506.3" y1="127.5" x2="506.3" y2="130.7" stroke="#0a0a0a" stroke-width="1"/>
<text x="501.3" y="140.9" font-size="9.0" stroke="#231f20" stroke-width="0.2" textLength="7.4" lengthAdjust="spacingAndGlyphs" >10</text>
<text transform="translate(509.1,137.7) scale(0.29)" font-size="20" fill="#444" text-rendering="geometricPrecision">3</text>
<text transform="translate(360.3,81.9) rotate(-90)" x="0" y="0" font-size="9.6" text-anchor="middle" stroke="#231f20" stroke-width="0.2" textLength="82.7" lengthAdjust="spacingAndGlyphs">Relative cell number</text>
<text x="11.0" y="196.7" font-size="12.2" stroke="#231f20" stroke-width="0.2" textLength="7.3" lengthAdjust="spacingAndGlyphs" >D</text>
<text x="80.2" y="197.2" font-size="9.8" stroke="#231f20" stroke-width="0.2" textLength="53.3" lengthAdjust="spacingAndGlyphs" >Ly6G positive</text>
<line x1="45.5" y1="202.5" x2="45.5" y2="293.1" stroke="#1a1a1a" stroke-width="1.1"/>
<line x1="42.5" y1="292.5" x2="45.5" y2="292.5" stroke="#0a0a0a" stroke-width="1"/>
<text x="38.9" y="295.5" font-size="8.6" stroke="#231f20" stroke-width="0.2" text-anchor="end" textLength="4" lengthAdjust="spacingAndGlyphs" >0</text>
<line x1="42.5" y1="263.5" x2="45.5" y2="263.5" stroke="#0a0a0a" stroke-width="1"/>
<text x="38.9" y="266.5" font-size="8.6" stroke="#231f20" stroke-width="0.2" text-anchor="end" textLength="7.6" lengthAdjust="spacingAndGlyphs" >40</text>
<line x1="42.5" y1="234.5" x2="45.5" y2="234.5" stroke="#0a0a0a" stroke-width="1"/>
<text x="38.9" y="237.5" font-size="8.6" stroke="#231f20" stroke-width="0.2" text-anchor="end" textLength="7.6" lengthAdjust="spacingAndGlyphs" >80</text>
<line x1="42.5" y1="205.5" x2="45.5" y2="205.5" stroke="#0a0a0a" stroke-width="1"/>
<text x="38.9" y="208.5" font-size="8.6" stroke="#231f20" stroke-width="0.2" text-anchor="end" textLength="11.4" lengthAdjust="spacingAndGlyphs" >120</text>
<line x1="45.0" y1="292.5" x2="168.8" y2="292.5" stroke="#1a1a1a" stroke-width="1.1"/>
<line x1="45.5" y1="292.5" x2="45.5" y2="295.7" stroke="#0a0a0a" stroke-width="1"/>
<text x="40.5" y="305.9" font-size="9.0" stroke="#231f20" stroke-width="0.2" textLength="7.4" lengthAdjust="spacingAndGlyphs" >10</text>
<text transform="translate(48.3,302.7) scale(0.29)" font-size="20" fill="#444" text-rendering="geometricPrecision">0</text>
<line x1="85.5" y1="292.5" x2="85.5" y2="295.7" stroke="#0a0a0a" stroke-width="1"/>
<text x="80.5" y="305.9" font-size="9.0" stroke="#231f20" stroke-width="0.2" textLength="7.4" lengthAdjust="spacingAndGlyphs" >10</text>
<text transform="translate(88.3,302.7) scale(0.29)" font-size="20" fill="#444" text-rendering="geometricPrecision">1</text>
<line x1="125.5" y1="292.5" x2="125.5" y2="295.7" stroke="#0a0a0a" stroke-width="1"/>
<text x="120.5" y="305.9" font-size="9.0" stroke="#231f20" stroke-width="0.2" textLength="7.4" lengthAdjust="spacingAndGlyphs" >10</text>
<text transform="translate(128.3,302.7) scale(0.29)" font-size="20" fill="#444" text-rendering="geometricPrecision">2</text>
<line x1="165.5" y1="292.5" x2="165.5" y2="295.7" stroke="#0a0a0a" stroke-width="1"/>
<text x="160.5" y="305.9" font-size="9.0" stroke="#231f20" stroke-width="0.2" textLength="7.4" lengthAdjust="spacingAndGlyphs" >10</text>
<text transform="translate(168.3,302.7) scale(0.29)" font-size="20" fill="#444" text-rendering="geometricPrecision">3</text>
<text transform="translate(19.5,246.9) rotate(-90)" x="0" y="0" font-size="9.6" text-anchor="middle" stroke="#231f20" stroke-width="0.2" textLength="82.7" lengthAdjust="spacingAndGlyphs">Relative cell number</text>
<text x="181.7" y="196.7" font-size="12.2" stroke="#231f20" stroke-width="0.2" textLength="5.4" lengthAdjust="spacingAndGlyphs" >E</text>
<text x="245" y="197.2" font-size="9.8" stroke="#231f20" stroke-width="0.2" textLength="64.8" lengthAdjust="spacingAndGlyphs" >M-CSFR positive</text>
<line x1="215.5" y1="202.5" x2="215.5" y2="293.1" stroke="#1a1a1a" stroke-width="1.1"/>
<line x1="212.5" y1="292.5" x2="215.5" y2="292.5" stroke="#0a0a0a" stroke-width="1"/>
<text x="208.9" y="295.5" font-size="8.6" stroke="#231f20" stroke-width="0.2" text-anchor="end" textLength="4" lengthAdjust="spacingAndGlyphs" >0</text>
<line x1="212.5" y1="263.5" x2="215.5" y2="263.5" stroke="#0a0a0a" stroke-width="1"/>
<text x="208.9" y="266.5" font-size="8.6" stroke="#231f20" stroke-width="0.2" text-anchor="end" textLength="7.6" lengthAdjust="spacingAndGlyphs" >40</text>
<line x1="212.5" y1="234.5" x2="215.5" y2="234.5" stroke="#0a0a0a" stroke-width="1"/>
<text x="208.9" y="237.5" font-size="8.6" stroke="#231f20" stroke-width="0.2" text-anchor="end" textLength="7.6" lengthAdjust="spacingAndGlyphs" >80</text>
<line x1="212.5" y1="205.5" x2="215.5" y2="205.5" stroke="#0a0a0a" stroke-width="1"/>
<text x="208.9" y="208.5" font-size="8.6" stroke="#231f20" stroke-width="0.2" text-anchor="end" textLength="11.4" lengthAdjust="spacingAndGlyphs" >120</text>
<line x1="215.0" y1="292.5" x2="338.8" y2="292.5" stroke="#1a1a1a" stroke-width="1.1"/>
<line x1="215.5" y1="292.5" x2="215.5" y2="295.7" stroke="#0a0a0a" stroke-width="1"/>
<text x="210.5" y="305.9" font-size="9.0" stroke="#231f20" stroke-width="0.2" textLength="7.4" lengthAdjust="spacingAndGlyphs" >10</text>
<text transform="translate(218.3,302.7) scale(0.29)" font-size="20" fill="#444" text-rendering="geometricPrecision">0</text>
<line x1="255.5" y1="292.5" x2="255.5" y2="295.7" stroke="#0a0a0a" stroke-width="1"/>
<text x="250.5" y="305.9" font-size="9.0" stroke="#231f20" stroke-width="0.2" textLength="7.4" lengthAdjust="spacingAndGlyphs" >10</text>
<text transform="translate(258.3,302.7) scale(0.29)" font-size="20" fill="#444" text-rendering="geometricPrecision">1</text>
<line x1="295.5" y1="292.5" x2="295.5" y2="295.7" stroke="#0a0a0a" stroke-width="1"/>
<text x="290.5" y="305.9" font-size="9.0" stroke="#231f20" stroke-width="0.2" textLength="7.4" lengthAdjust="spacingAndGlyphs" >10</text>
<text transform="translate(298.3,302.7) scale(0.29)" font-size="20" fill="#444" text-rendering="geometricPrecision">2</text>
<line x1="335.5" y1="292.5" x2="335.5" y2="295.7" stroke="#0a0a0a" stroke-width="1"/>
<text x="330.5" y="305.9" font-size="9.0" stroke="#231f20" stroke-width="0.2" textLength="7.4" lengthAdjust="spacingAndGlyphs" >10</text>
<text transform="translate(338.3,302.7) scale(0.29)" font-size="20" fill="#444" text-rendering="geometricPrecision">3</text>
<text transform="translate(189.5,246.9) rotate(-90)" x="0" y="0" font-size="9.6" text-anchor="middle" stroke="#231f20" stroke-width="0.2" textLength="82.7" lengthAdjust="spacingAndGlyphs">Relative cell number</text>
<text x="352.2" y="196.7" font-size="12.2" stroke="#231f20" stroke-width="0.2" textLength="4.9" lengthAdjust="spacingAndGlyphs" >F</text>
<text x="421.8" y="197.2" font-size="9.8" stroke="#231f20" stroke-width="0.2" textLength="51.4" lengthAdjust="spacingAndGlyphs" >CD3 positive</text>
<line x1="386.3" y1="202.5" x2="386.3" y2="293.1" stroke="#1a1a1a" stroke-width="1.1"/>
<line x1="383.3" y1="292.5" x2="386.3" y2="292.5" stroke="#0a0a0a" stroke-width="1"/>
<text x="379.7" y="295.5" font-size="8.6" stroke="#231f20" stroke-width="0.2" text-anchor="end" textLength="4" lengthAdjust="spacingAndGlyphs" >0</text>
<line x1="383.3" y1="263.5" x2="386.3" y2="263.5" stroke="#0a0a0a" stroke-width="1"/>
<text x="379.7" y="266.5" font-size="8.6" stroke="#231f20" stroke-width="0.2" text-anchor="end" textLength="7.6" lengthAdjust="spacingAndGlyphs" >40</text>
<line x1="383.3" y1="234.5" x2="386.3" y2="234.5" stroke="#0a0a0a" stroke-width="1"/>
<text x="379.7" y="237.5" font-size="8.6" stroke="#231f20" stroke-width="0.2" text-anchor="end" textLength="7.6" lengthAdjust="spacingAndGlyphs" >80</text>
<line x1="383.3" y1="205.5" x2="386.3" y2="205.5" stroke="#0a0a0a" stroke-width="1"/>
<text x="379.7" y="208.5" font-size="8.6" stroke="#231f20" stroke-width="0.2" text-anchor="end" textLength="11.4" lengthAdjust="spacingAndGlyphs" >120</text>
<line x1="385.8" y1="292.5" x2="509.6" y2="292.5" stroke="#1a1a1a" stroke-width="1.1"/>
<line x1="386.3" y1="292.5" x2="386.3" y2="295.7" stroke="#0a0a0a" stroke-width="1"/>
<text x="381.3" y="305.9" font-size="9.0" stroke="#231f20" stroke-width="0.2" textLength="7.4" lengthAdjust="spacingAndGlyphs" >10</text>
<text transform="translate(389.1,302.7) scale(0.29)" font-size="20" fill="#444" text-rendering="geometricPrecision">0</text>
<line x1="426.3" y1="292.5" x2="426.3" y2="295.7" stroke="#0a0a0a" stroke-width="1"/>
<text x="421.3" y="305.9" font-size="9.0" stroke="#231f20" stroke-width="0.2" textLength="7.4" lengthAdjust="spacingAndGlyphs" >10</text>
<text transform="translate(429.1,302.7) scale(0.29)" font-size="20" fill="#444" text-rendering="geometricPrecision">1</text>
<line x1="466.3" y1="292.5" x2="466.3" y2="295.7" stroke="#0a0a0a" stroke-width="1"/>
<text x="461.3" y="305.9" font-size="9.0" stroke="#231f20" stroke-width="0.2" textLength="7.4" lengthAdjust="spacingAndGlyphs" >10</text>
<text transform="translate(469.1,302.7) scale(0.29)" font-size="20" fill="#444" text-rendering="geometricPrecision">2</text>
<line x1="506.3" y1="292.5" x2="506.3" y2="295.7" stroke="#0a0a0a" stroke-width="1"/>
<text x="501.3" y="305.9" font-size="9.0" stroke="#231f20" stroke-width="0.2" textLength="7.4" lengthAdjust="spacingAndGlyphs" >10</text>
<text transform="translate(509.1,302.7) scale(0.29)" font-size="20" fill="#444" text-rendering="geometricPrecision">3</text>
<text transform="translate(360.3,246.9) rotate(-90)" x="0" y="0" font-size="9.6" text-anchor="middle" stroke="#231f20" stroke-width="0.2" textLength="82.7" lengthAdjust="spacingAndGlyphs">Relative cell number</text>
<text x="67.9" y="59.0" font-size="7.3" stroke="#3a3a3a" stroke-width="0.2" textLength="47.3" lengthAdjust="spacingAndGlyphs" fill="#3a3a3a" >Isotype control</text>
<line x1="92.1" y1="63.9" x2="72.82596434362117" y2="88.49657269956295" stroke="#111" stroke-width="1.1"/>
<polygon points="68.20,94.40 70.31,86.52 72.83,88.50 75.34,90.47" fill="#111"/>
<text x="68.2" y="223.0" font-size="7.3" stroke="#3a3a3a" stroke-width="0.2" textLength="47.3" lengthAdjust="spacingAndGlyphs" fill="#3a3a3a" >Isotype control</text>
<line x1="92.1" y1="228" x2="77.84241168177762" y2="246.73204422660066" stroke="#111" stroke-width="1.1"/>
<polygon points="73.30,252.70 75.30,244.79 77.84,246.73 80.39,248.67" fill="#111"/>
<line x1="45" y1="151.5" x2="507" y2="151.5" stroke="#3a3a3a" stroke-width="1.1"/>
<rect x="211" y="146" width="130.5" height="10" fill="#fefefe"/>
<text x="209.5" y="154.2" font-size="9.6" stroke="#231f20" stroke-width="0.2" textLength="132.8" lengthAdjust="spacingAndGlyphs" >Anti-human OSM-alexa fluor 488</text>
<line x1="45" y1="316.5" x2="507" y2="316.5" stroke="#3a3a3a" stroke-width="1.1"/>
<rect x="212.5" y="311" width="129" height="10" fill="#fefefe"/>
<text x="211" y="319.1" font-size="9.6" stroke="#231f20" stroke-width="0.2" textLength="131.2" lengthAdjust="spacingAndGlyphs" >Anti-mouse OSM-alexa fluor 488</text>
<text x="11.0" y="348.0" font-size="11.2" stroke="#231f20" stroke-width="0.2" textLength="7.2" lengthAdjust="spacingAndGlyphs" >G</text>
<text x="100.3" y="348.5" font-size="10.5" stroke="#231f20" stroke-width="0.2" textLength="78.5" lengthAdjust="spacingAndGlyphs" >Human neutrophils</text>
<line x1="45.0" y1="362.5" x2="45.0" y2="468.0" stroke="#444" stroke-width="1.3"/>
<line x1="42.0" y1="467.5" x2="45.0" y2="467.5" stroke="#0a0a0a" stroke-width="1"/>
<text x="39.2" y="470.4" font-size="8.2" stroke="#231f20" stroke-width="0.2" text-anchor="end" textLength="4" lengthAdjust="spacingAndGlyphs" >0</text>
<line x1="42.0" y1="447.08" x2="45.0" y2="447.08" stroke="#0a0a0a" stroke-width="1"/>
<text x="39.2" y="449.97999999999996" font-size="8.2" stroke="#231f20" stroke-width="0.2" text-anchor="end" textLength="8.1" lengthAdjust="spacingAndGlyphs" >50</text>
<line x1="42.0" y1="426.66" x2="45.0" y2="426.66" stroke="#0a0a0a" stroke-width="1"/>
<text x="39.2" y="429.56" font-size="8.2" stroke="#231f20" stroke-width="0.2" text-anchor="end" textLength="12.1" lengthAdjust="spacingAndGlyphs" >100</text>
<line x1="42.0" y1="406.24" x2="45.0" y2="406.24" stroke="#0a0a0a" stroke-width="1"/>
<text x="39.2" y="409.14" font-size="8.2" stroke="#231f20" stroke-width="0.2" text-anchor="end" textLength="12.1" lengthAdjust="spacingAndGlyphs" >150</text>
<line x1="42.0" y1="385.82" x2="45.0" y2="385.82" stroke="#0a0a0a" stroke-width="1"/>
<text x="39.2" y="388.71999999999997" font-size="8.2" stroke="#231f20" stroke-width="0.2" text-anchor="end" textLength="12.1" lengthAdjust="spacingAndGlyphs" >200</text>
<line x1="42.0" y1="365.4" x2="45.0" y2="365.4" stroke="#0a0a0a" stroke-width="1"/>
<text x="39.2" y="368.29999999999995" font-size="8.2" stroke="#231f20" stroke-width="0.2" text-anchor="end" textLength="12.1" lengthAdjust="spacingAndGlyphs" >250</text>
<text transform="translate(19.4,414.9) rotate(-90)" x="0" y="0" font-size="8.8" text-anchor="middle" stroke="#231f20" stroke-width="0.2" textLength="103.6" lengthAdjust="spacingAndGlyphs">OSM (pg/10<tspan font-size="5.8" dy="-3.3">7</tspan><tspan dy="3.3"> neutrophils)</tspan></text>
<line x1="45.0" y1="467.5" x2="233.2" y2="467.5" stroke="#222" stroke-width="1.1"/>
<line x1="45.0" y1="467.5" x2="45.0" y2="470.1" stroke="#0a0a0a" stroke-width="1"/>
<line x1="60.475" y1="467.5" x2="60.475" y2="470.1" stroke="#0a0a0a" stroke-width="1"/>
<line x1="75.95" y1="467.5" x2="75.95" y2="470.1" stroke="#0a0a0a" stroke-width="1"/>
<line x1="91.425" y1="467.5" x2="91.425" y2="470.1" stroke="#0a0a0a" stroke-width="1"/>
<line x1="106.9" y1="467.5" x2="106.9" y2="470.1" stroke="#0a0a0a" stroke-width="1"/>
<line x1="122.375" y1="467.5" x2="122.375" y2="470.1" stroke="#0a0a0a" stroke-width="1"/>
<line x1="137.85" y1="467.5" x2="137.85" y2="470.1" stroke="#0a0a0a" stroke-width="1"/>
<line x1="153.325" y1="467.5" x2="153.325" y2="470.1" stroke="#0a0a0a" stroke-width="1"/>
<line x1="168.8" y1="467.5" x2="168.8" y2="470.1" stroke="#0a0a0a" stroke-width="1"/>
<line x1="184.275" y1="467.5" x2="184.275" y2="470.1" stroke="#0a0a0a" stroke-width="1"/>
<line x1="199.75" y1="467.5" x2="199.75" y2="470.1" stroke="#0a0a0a" stroke-width="1"/>
<line x1="215.225" y1="467.5" x2="215.225" y2="470.1" stroke="#0a0a0a" stroke-width="1"/>
<line x1="230.7" y1="467.5" x2="230.7" y2="470.1" stroke="#0a0a0a" stroke-width="1"/>
<line x1="68.425" y1="404.1" x2="68.425" y2="407.7" stroke="#333" stroke-width="1"/>
<polygon points="66.52,402.90 70.33,402.90 69.02,404.70 67.83,404.70" fill="#2a2a2a"/>
<rect x="62.08" y="407.70" width="12.7" height="59.80" fill="#4b6284"/>
<rect x="62.08" y="407.70" width="12.7" height="0.8" fill="#35496a"/>
<line x1="83.89999999999999" y1="459.7" x2="83.89999999999999" y2="460.5" stroke="#333" stroke-width="1"/>
<polygon points="82.00,458.50 85.80,458.50 84.50,460.30 83.30,460.30" fill="#2a2a2a"/>
<rect x="77.55" y="460.50" width="12.7" height="7.00" fill="#a63446"/>
<rect x="77.55" y="460.50" width="12.7" height="0.8" fill="#8c1d30"/>
<line x1="99.37499999999999" y1="419.1" x2="99.37499999999999" y2="422.90000000000003" stroke="#333" stroke-width="1"/>
<polygon points="97.47,417.90 101.27,417.90 99.97,419.70 98.77,419.70" fill="#2a2a2a"/>
<rect x="93.02" y="422.90" width="12.7" height="44.60" fill="#4b6284"/>
<rect x="93.02" y="422.90" width="12.7" height="0.8" fill="#35496a"/>
<line x1="114.85" y1="465.6" x2="114.85" y2="465.6" stroke="#333" stroke-width="1"/>
<polygon points="112.95,464.40 116.75,464.40 115.45,466.20 114.25,466.20" fill="#2a2a2a"/>
<rect x="108.50" y="465.60" width="12.7" height="1.90" fill="#a63446"/>
<rect x="108.50" y="465.60" width="12.7" height="0.8" fill="#8c1d30"/>
<line x1="130.325" y1="407.5" x2="130.325" y2="412.5" stroke="#333" stroke-width="1"/>
<polygon points="128.42,406.30 132.22,406.30 130.92,408.10 129.72,408.10" fill="#2a2a2a"/>
<rect x="123.97" y="412.50" width="12.7" height="55.00" fill="#4b6284"/>
<rect x="123.97" y="412.50" width="12.7" height="0.8" fill="#35496a"/>
<line x1="145.79999999999998" y1="442.1" x2="145.79999999999998" y2="444.8" stroke="#333" stroke-width="1"/>
<polygon points="143.90,440.90 147.70,440.90 146.40,442.70 145.20,442.70" fill="#2a2a2a"/>
<rect x="139.45" y="444.80" width="12.7" height="22.70" fill="#a63446"/>
<rect x="139.45" y="444.80" width="12.7" height="0.8" fill="#8c1d30"/>
<line x1="161.27499999999998" y1="439.8" x2="161.27499999999998" y2="442.3" stroke="#333" stroke-width="1"/>
<polygon points="159.37,438.60 163.17,438.60 161.87,440.40 160.67,440.40" fill="#2a2a2a"/>
<rect x="154.92" y="442.30" width="12.7" height="25.20" fill="#4b6284"/>
<rect x="154.92" y="442.30" width="12.7" height="0.8" fill="#35496a"/>
<line x1="176.75" y1="464.8" x2="176.75" y2="465.6" stroke="#333" stroke-width="1"/>
<polygon points="174.85,463.60 178.65,463.60 177.35,465.40 176.15,465.40" fill="#2a2a2a"/>
<rect x="170.40" y="465.60" width="12.7" height="1.90" fill="#a63446"/>
<rect x="170.40" y="465.60" width="12.7" height="0.8" fill="#8c1d30"/>
<line x1="192.225" y1="410.5" x2="192.225" y2="414.8" stroke="#333" stroke-width="1"/>
<polygon points="190.32,409.30 194.12,409.30 192.82,411.10 191.62,411.10" fill="#2a2a2a"/>
<rect x="185.88" y="414.80" width="12.7" height="52.70" fill="#4b6284"/>
<rect x="185.88" y="414.80" width="12.7" height="0.8" fill="#35496a"/>
<line x1="207.7" y1="440.5" x2="207.7" y2="445.3" stroke="#333" stroke-width="1"/>
<polygon points="205.80,439.30 209.60,439.30 208.30,441.10 207.10,441.10" fill="#2a2a2a"/>
<rect x="201.35" y="445.30" width="12.7" height="22.20" fill="#a63446"/>
<rect x="201.35" y="445.30" width="12.7" height="0.8" fill="#8c1d30"/>
<line x1="223.17499999999998" y1="432.5" x2="223.17499999999998" y2="436.8" stroke="#333" stroke-width="1"/>
<polygon points="221.27,431.30 225.07,431.30 223.77,433.10 222.57,433.10" fill="#2a2a2a"/>
<rect x="216.82" y="436.80" width="12.7" height="30.70" fill="#4b6284"/>
<rect x="216.82" y="436.80" width="12.7" height="0.8" fill="#35496a"/>
<line x1="46.9" y1="376.2" x2="74.7" y2="376.2" stroke="#555555" stroke-width="1.2"/>
<line x1="76.9" y1="376.2" x2="136.5" y2="376.2" stroke="#555555" stroke-width="1.2"/>
<line x1="138.8" y1="376.2" x2="229.7" y2="376.2" stroke="#555555" stroke-width="1.2"/>
<text x="52" y="374.2" font-size="7.5" stroke="#231f20" stroke-width="0.15" textLength="17.8" lengthAdjust="spacingAndGlyphs" >Shear</text>
<text x="97.7" y="374.2" font-size="7.5" stroke="#231f20" stroke-width="0.15" textLength="17.5" lengthAdjust="spacingAndGlyphs" >Static</text>
<text x="175" y="374.2" font-size="7.5" stroke="#231f20" stroke-width="0.15" textLength="17.8" lengthAdjust="spacingAndGlyphs" >Shear</text>
<line x1="52.7" y1="390.3" x2="145.7" y2="390.3" stroke="#555555" stroke-width="1.2"/>
<circle cx="97.6" cy="387.0" r="1.05" fill="#333"/>
<circle cx="101.0" cy="387.0" r="1.05" fill="#333"/>
<line x1="52.7" y1="400.0" x2="82.0" y2="400.0" stroke="#555555" stroke-width="1.2"/>
<circle cx="65.7" cy="396.4" r="1.05" fill="#333"/>
<circle cx="69.10000000000001" cy="396.4" r="1.05" fill="#333"/>
<line x1="83.8" y1="400.0" x2="145.7" y2="400.0" stroke="#555555" stroke-width="1.2"/>
<circle cx="112.8" cy="396.4" r="1.05" fill="#333"/>
<circle cx="116.2" cy="396.4" r="1.05" fill="#333"/>
<line x1="83.8" y1="415.0" x2="114.5" y2="415.0" stroke="#555555" stroke-width="1.2"/>
<circle cx="99.3" cy="411.2" r="1.05" fill="#333"/>
<line x1="145.7" y1="435.8" x2="176.8" y2="435.8" stroke="#555555" stroke-width="1.2"/>
<circle cx="159.0" cy="432.0" r="1.05" fill="#333"/>
<circle cx="162.39999999999998" cy="432.0" r="1.05" fill="#333"/>
<line x1="108.7" y1="473.7" x2="136.5" y2="473.7" stroke="#555555" stroke-width="1.2"/>
<line x1="170.7" y1="473.8" x2="198.2" y2="473.8" stroke="#555555" stroke-width="1.2"/>
<line x1="201.3" y1="473.8" x2="228.9" y2="473.8" stroke="#555555" stroke-width="1.2"/>
<text x="116.3" y="484.1" font-size="8" stroke="#231f20" stroke-width="0.15" textLength="12.3" lengthAdjust="spacingAndGlyphs" >PL1</text>
<text x="178.0" y="484.1" font-size="8" stroke="#231f20" stroke-width="0.15" textLength="12.5" lengthAdjust="spacingAndGlyphs" >PL1</text>
<text x="208.8" y="484.1" font-size="8" stroke="#231f20" stroke-width="0.15" textLength="12.6" lengthAdjust="spacingAndGlyphs" >PL2</text>
<line x1="46.5" y1="488.8" x2="74.7" y2="488.8" stroke="#555555" stroke-width="1.2"/>
<line x1="77.4" y1="488.8" x2="228.9" y2="488.8" stroke="#555555" stroke-width="1.2"/>
<text x="53.1" y="499.2" font-size="8" stroke="#231f20" stroke-width="0.15" textLength="15.2" lengthAdjust="spacingAndGlyphs" >HSA</text>
<text x="137" y="498.9" font-size="7.8" stroke="#231f20" stroke-width="0.15" textLength="32.7" lengthAdjust="spacingAndGlyphs" >P-selectin</text>
<rect x="103.1" y="510" width="8.7" height="8.7" fill="#a63446"/>
<text x="114.9" y="517.6" font-size="8.5" stroke="#231f20" stroke-width="0.15" textLength="19.1" lengthAdjust="spacingAndGlyphs" >Media</text>
<rect x="143.5" y="510" width="8.7" height="8.7" fill="#4b6284"/>
<text x="155.2" y="517.6" font-size="8.5" stroke="#231f20" stroke-width="0.15" textLength="19.8" lengthAdjust="spacingAndGlyphs" >Lysate</text>
<text x="295.8" y="348.2" font-size="11.2" stroke="#231f20" stroke-width="0.2" textLength="7.4" lengthAdjust="spacingAndGlyphs" >H</text>
<text x="383.8" y="348.5" font-size="10.5" stroke="#231f20" stroke-width="0.2" textLength="75.9" lengthAdjust="spacingAndGlyphs" >Mouse neutrophils</text>
<line x1="330.9" y1="377.3" x2="330.9" y2="483.0" stroke="#444" stroke-width="1.3"/>
<line x1="327.4" y1="482.5" x2="330.9" y2="482.5" stroke="#0a0a0a" stroke-width="1"/>
<text x="325.2" y="485.4" font-size="8.2" stroke="#231f20" stroke-width="0.2" text-anchor="end" textLength="4" lengthAdjust="spacingAndGlyphs" >0</text>
<line x1="327.4" y1="448.4" x2="330.9" y2="448.4" stroke="#0a0a0a" stroke-width="1"/>
<text x="325.2" y="451.29999999999995" font-size="8.2" stroke="#231f20" stroke-width="0.2" text-anchor="end" textLength="8.1" lengthAdjust="spacingAndGlyphs" >50</text>
<line x1="327.4" y1="414.3" x2="330.9" y2="414.3" stroke="#0a0a0a" stroke-width="1"/>
<text x="325.2" y="417.2" font-size="8.2" stroke="#231f20" stroke-width="0.2" text-anchor="end" textLength="12.7" lengthAdjust="spacingAndGlyphs" >100</text>
<line x1="327.4" y1="380.2" x2="330.9" y2="380.2" stroke="#0a0a0a" stroke-width="1"/>
<text x="325.2" y="383.09999999999997" font-size="8.2" stroke="#231f20" stroke-width="0.2" text-anchor="end" textLength="12.7" lengthAdjust="spacingAndGlyphs" >150</text>
<text transform="translate(304.8,429.9) rotate(-90)" x="0" y="0" font-size="8.8" text-anchor="middle" stroke="#231f20" stroke-width="0.2" textLength="103.6" lengthAdjust="spacingAndGlyphs">OSM (pg/10<tspan font-size="5.8" dy="-3.3">7</tspan><tspan dy="3.3"> neutrophils)</tspan></text>
<line x1="330.9" y1="482.5" x2="512.3" y2="482.5" stroke="#222" stroke-width="1.1"/>
<line x1="330.9" y1="482.5" x2="330.9" y2="485.1" stroke="#0a0a0a" stroke-width="1"/>
<line x1="348.78" y1="482.5" x2="348.78" y2="485.1" stroke="#0a0a0a" stroke-width="1"/>
<line x1="366.65999999999997" y1="482.5" x2="366.65999999999997" y2="485.1" stroke="#0a0a0a" stroke-width="1"/>
<line x1="384.53999999999996" y1="482.5" x2="384.53999999999996" y2="485.1" stroke="#0a0a0a" stroke-width="1"/>
<line x1="402.41999999999996" y1="482.5" x2="402.41999999999996" y2="485.1" stroke="#0a0a0a" stroke-width="1"/>
<line x1="420.29999999999995" y1="482.5" x2="420.29999999999995" y2="485.1" stroke="#0a0a0a" stroke-width="1"/>
<line x1="438.17999999999995" y1="482.5" x2="438.17999999999995" y2="485.1" stroke="#0a0a0a" stroke-width="1"/>
<line x1="456.05999999999995" y1="482.5" x2="456.05999999999995" y2="485.1" stroke="#0a0a0a" stroke-width="1"/>
<line x1="473.93999999999994" y1="482.5" x2="473.93999999999994" y2="485.1" stroke="#0a0a0a" stroke-width="1"/>
<line x1="491.81999999999994" y1="482.5" x2="491.81999999999994" y2="485.1" stroke="#0a0a0a" stroke-width="1"/>
<line x1="509.69999999999993" y1="482.5" x2="509.69999999999993" y2="485.1" stroke="#0a0a0a" stroke-width="1"/>
<line x1="357.7" y1="407.59999999999997" x2="357.7" y2="413.79999999999995" stroke="#333" stroke-width="1"/>
<polygon points="355.80,406.40 359.60,406.40 358.30,408.20 357.10,408.20" fill="#2a2a2a"/>
<rect x="350.40" y="413.80" width="14.6" height="68.70" fill="#4a6283"/>
<rect x="350.40" y="413.80" width="14.6" height="0.8" fill="#35496a"/>
<rect x="368.00" y="481.60" width="14.6" height="0.90" fill="#7a2233"/>
<rect x="368.00" y="481.60" width="14.6" height="0.8" fill="#7a2233"/>
<line x1="394.2" y1="411.79999999999995" x2="394.2" y2="416.59999999999997" stroke="#333" stroke-width="1"/>
<polygon points="392.30,410.60 396.10,410.60 394.80,412.40 393.60,412.40" fill="#2a2a2a"/>
<rect x="386.90" y="416.60" width="14.6" height="65.90" fill="#4a6283"/>
<rect x="386.90" y="416.60" width="14.6" height="0.8" fill="#35496a"/>
<line x1="412.5" y1="462.59999999999997" x2="412.5" y2="464.7" stroke="#333" stroke-width="1"/>
<polygon points="410.60,461.40 414.40,461.40 413.10,463.20 411.90,463.20" fill="#2a2a2a"/>
<rect x="405.20" y="464.70" width="14.6" height="17.80" fill="#a63446"/>
<rect x="405.20" y="464.70" width="14.6" height="0.8" fill="#8c1d30"/>
<line x1="430.3" y1="431.59999999999997" x2="430.3" y2="435.5" stroke="#333" stroke-width="1"/>
<polygon points="428.40,430.40 432.20,430.40 430.90,432.20 429.70,432.20" fill="#2a2a2a"/>
<rect x="423.00" y="435.50" width="14.6" height="47.00" fill="#4a6283"/>
<rect x="423.00" y="435.50" width="14.6" height="0.8" fill="#35496a"/>
<rect x="440.80" y="481.60" width="14.6" height="0.90" fill="#7a2233"/>
<rect x="440.80" y="481.60" width="14.6" height="0.8" fill="#7a2233"/>
<line x1="466.7" y1="412.59999999999997" x2="466.7" y2="417.59999999999997" stroke="#333" stroke-width="1"/>
<polygon points="464.80,411.40 468.60,411.40 467.30,413.20 466.10,413.20" fill="#2a2a2a"/>
<rect x="459.40" y="417.60" width="14.6" height="64.90" fill="#4a6283"/>
<rect x="459.40" y="417.60" width="14.6" height="0.8" fill="#35496a"/>
<line x1="485.2" y1="481.29999999999995" x2="485.2" y2="481.09999999999997" stroke="#333" stroke-width="1"/>
<polygon points="483.30,480.10 487.10,480.10 485.80,481.90 484.60,481.90" fill="#2a2a2a"/>
<rect x="477.90" y="481.10" width="14.6" height="1.40" fill="#a63446"/>
<rect x="477.90" y="481.10" width="14.6" height="0.8" fill="#8c1d30"/>
<line x1="501.3" y1="414.79999999999995" x2="501.3" y2="424.5" stroke="#333" stroke-width="1"/>
<polygon points="499.40,413.60 503.20,413.60 501.90,415.40 500.70,415.40" fill="#2a2a2a"/>
<rect x="494.00" y="424.50" width="14.6" height="58.00" fill="#4a6283"/>
<rect x="494.00" y="424.50" width="14.6" height="0.8" fill="#35496a"/>
<line x1="332.7" y1="366.0" x2="433.0" y2="366.0" stroke="#555555" stroke-width="1.2"/>
<line x1="438.0" y1="366.0" x2="505.7" y2="366.0" stroke="#555555" stroke-width="1.2"/>
<text x="377.7" y="363.8" font-size="7.5" stroke="#231f20" stroke-width="0.15" textLength="10.8" lengthAdjust="spacingAndGlyphs" >WT</text>
<text x="459.1" y="363.5" font-size="7.5" stroke="#231f20" stroke-width="0.15" textLength="19.7" lengthAdjust="spacingAndGlyphs" >Selplg</text>
<text x="479.3" y="359.8" font-size="5" stroke="#231f20" stroke-width="0.15" textLength="4.8" lengthAdjust="spacingAndGlyphs" >-/-</text>
<line x1="332.7" y1="384.8" x2="365.0" y2="384.8" stroke="#555555" stroke-width="1.2"/>
<line x1="367.8" y1="384.8" x2="400.1" y2="384.8" stroke="#555555" stroke-width="1.2"/>
<line x1="403.0" y1="384.8" x2="435.0" y2="384.8" stroke="#555555" stroke-width="1.2"/>
<line x1="438.0" y1="384.8" x2="470.4" y2="384.8" stroke="#555555" stroke-width="1.2"/>
<line x1="473.2" y1="384.8" x2="505.7" y2="384.8" stroke="#555555" stroke-width="1.2"/>
<text x="339.6" y="382.8" font-size="7.5" stroke="#231f20" stroke-width="0.15" textLength="18" lengthAdjust="spacingAndGlyphs" >Shear</text>
<text x="374.7" y="382.8" font-size="7.5" stroke="#231f20" stroke-width="0.15" textLength="18" lengthAdjust="spacingAndGlyphs" >Static</text>
<text x="410.0" y="382.8" font-size="7.5" stroke="#231f20" stroke-width="0.15" textLength="18" lengthAdjust="spacingAndGlyphs" >Shear</text>
<text x="445.0" y="382.8" font-size="7.5" stroke="#231f20" stroke-width="0.15" textLength="17.8" lengthAdjust="spacingAndGlyphs" >Static</text>
<text x="479.6" y="382.8" font-size="7.5" stroke="#231f20" stroke-width="0.15" textLength="18.4" lengthAdjust="spacingAndGlyphs" >Shear</text>
<line x1="339.6" y1="397.1" x2="410.8" y2="397.1" stroke="#555555" stroke-width="1.2"/>
<circle cx="373.7" cy="393.2" r="1.05" fill="#333"/>
<circle cx="377.09999999999997" cy="393.2" r="1.05" fill="#333"/>
<line x1="377.2" y1="405.5" x2="410.8" y2="405.5" stroke="#555555" stroke-width="1.2"/>
<circle cx="392.1" cy="402.0" r="1.05" fill="#333"/>
<circle cx="395.5" cy="402.0" r="1.05" fill="#333"/>
<line x1="414.3" y1="405.2" x2="483.5" y2="405.2" stroke="#555555" stroke-width="1.2"/>
<circle cx="446.8" cy="401.5" r="1.05" fill="#333"/>
<circle cx="450.2" cy="401.5" r="1.05" fill="#333"/>
<line x1="332.0" y1="488.7" x2="365.2" y2="488.7" stroke="#555555" stroke-width="1.2"/>
<line x1="367.1" y1="488.8" x2="509.6" y2="488.8" stroke="#555555" stroke-width="1.2"/>
<text x="339.2" y="499.2" font-size="8" stroke="#231f20" stroke-width="0.15" textLength="18.3" lengthAdjust="spacingAndGlyphs" >CD45</text>
<text x="421.8" y="498.9" font-size="7.8" stroke="#231f20" stroke-width="0.15" textLength="32.8" lengthAdjust="spacingAndGlyphs" >P-selectin</text>
<rect x="385.4" y="510" width="8.7" height="8.7" fill="#a63446"/>
<text x="396.9" y="517.6" font-size="8.5" stroke="#231f20" stroke-width="0.15" textLength="19.3" lengthAdjust="spacingAndGlyphs" >Media</text>
<rect x="425.8" y="510" width="8.7" height="8.7" fill="#4a6283"/>
<text x="437.3" y="517.6" font-size="8.5" stroke="#231f20" stroke-width="0.15" textLength="20.2" lengthAdjust="spacingAndGlyphs" >Lysate</text>
</g>
<rect x="0" y="0" width="520" height="1.5" fill="#4a4a4a"/>
<rect x="0" y="0" width="1.6" height="526" fill="#454545"/>
<rect x="519" y="0" width="1" height="526" fill="#000"/>
<rect x="0" y="524" width="520" height="2" fill="#444"/>
</svg>
</body></html>
